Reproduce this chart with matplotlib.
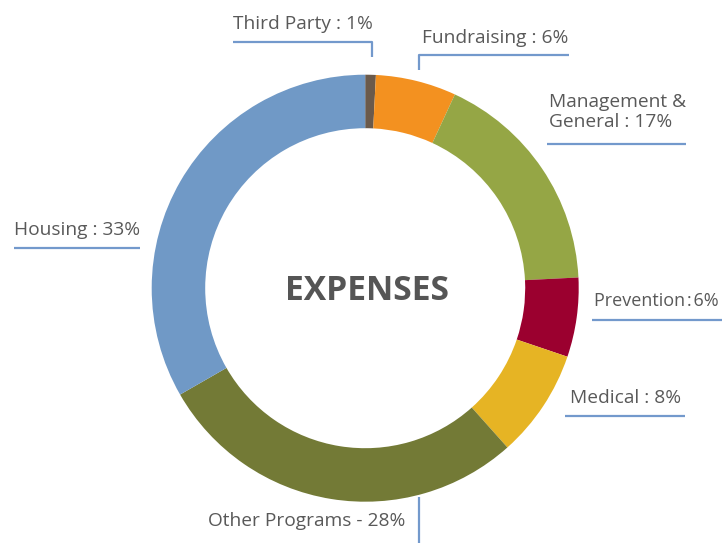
from matplotlib import pyplot as plt

# data, clockwise from the top
categories = ['Third Party', 'Fundraising', 'Management & General', 'Prevention',
              'Medical', 'Other Programs', 'Housing']
shares = [0.8, 6.1, 17.3, 6.0, 8.2, 28.3, 33.3]
labels = ['Third Party : 1%', 'Fundraising : 6%', 'Management &\nGeneral : 17%',
          'Prevention\u200a:\u200a6%', 'Medical : 8%', 'Other Programs - 28%', 'Housing : 33%']

colors = ['#6b5a4b', '#f39120', '#95a645', '#9b002f', '#e6b424', '#737a36', '#7099c6']
line_color = '#7399cc'
text_color = '#595959'

# layout in pixels (y goes down), baseline of the last line of each label
label_xy = [(233, 29), (422, 43), (549, 127), (594, 306.5), (570, 403), (208, 526.5), (14, 235)]
label_size = [13.8, 13.8, 13.8, 13.0, 13.8, 13.8, 13.8]
leaders = [
    [(233, 42), (372, 42), (372, 57)],
    [(569, 55), (419, 55), (419, 70)],
    [(547, 144), (686, 144)],
    [(592, 320), (722, 320)],
    [(565, 416), (685, 416)],
    [(419, 497), (419, 543)],
    [(14, 248), (140, 248)],
]

plt.rcParams['font.family'] = ['Open Sans', 'DejaVu Sans']

fig = plt.figure(figsize=(7.23, 5.43), dpi=100)
ax = fig.add_axes([0, 0, 1, 1])

R = 213.5
ax.pie(shares, colors=colors, startangle=-90, counterclock=True,
       center=(365.2, 288.2), radius=R,
       wedgeprops=dict(width=53.5, linewidth=0))

ax.set_xlim(0, 723)
ax.set_ylim(543, 0)
ax.set_aspect('equal')
ax.axis('off')

ax.text(367, 291.5, 'EXPENSES', ha='center', va='center', fontsize=24.2,
        fontweight='bold', color='#555555')

for lab, (x, y), size in zip(labels, label_xy, label_size):
    lines = lab.split('\n')
    for i, line in enumerate(lines):
        ax.text(x, y - 20 * (len(lines) - 1 - i), line, ha='left', va='baseline',
                fontsize=size, color=text_color)

for pts in leaders:
    xs = [p[0] for p in pts]
    ys = [p[1] for p in pts]
    ax.plot(xs, ys, color=line_color, linewidth=1.6, solid_capstyle='butt')

fig.savefig('out.png', dpi=100)
